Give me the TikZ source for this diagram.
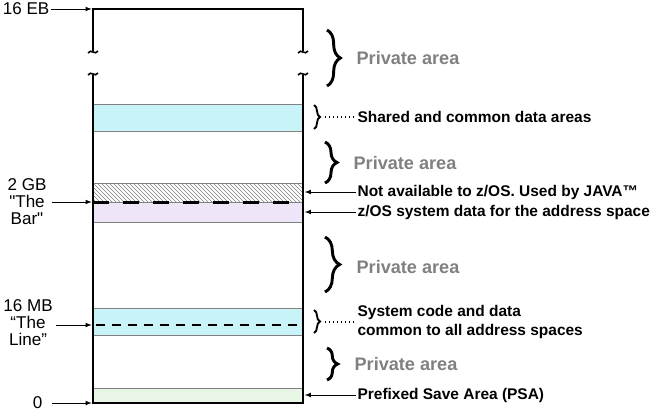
\documentclass[tikz,border=0pt]{standalone}
\usepackage{fontspec}
\setmainfont{Liberation Sans}
\usetikzlibrary{positioning, arrows, calc, fit, patterns, decorations.pathreplacing}
\definecolor{sharedcol}{HTML}{C8F4F9}
\definecolor{sysdatacol}{HTML}{EEE6F8}
\definecolor{psacol}{HTML}{E8F6E5}
\definecolor{privcol}{HTML}{808080}
\tikzset{
	addr/.style={font=\fontsize{12.8}{12.8}\selectfont, align=center, inner sep=1pt}, % labels left of the box
	note/.style={font=\bfseries\fontsize{11.6}{14.2}\selectfont, anchor=west, align=left, inner sep=1pt}, % notes right of the box
	priv/.style={font=\bfseries\fontsize{13.6}{16}\selectfont, text=privcol, anchor=west, inner sep=1pt}, % private area labels
	band/.style={draw=gray, line width=0.6pt, inner sep=0pt}, % horizontal areas in the box
	boxline/.style={line width=1.6pt}, % outline of the address space
	ptr/.style={-latex, line width=0.6pt}, % arrows to the boundaries
	leader/.style={dotted, line width=1pt}, % dotted lines after small braces
	bigbrace/.style={decorate, decoration={brace, amplitude=#1}, line width=2.2pt}, % large braces
	smallbrace/.style={decorate, decoration={brace, amplitude=4.5pt}, line width=1.4pt}, % small braces
}

\begin{document}
\begin{tikzpicture}[x=0.75pt, y=-0.75pt]
	\useasboundingbox (0,0) rectangle (656,418);

	% areas inside the box
	\node[band, fill=sharedcol, fit={(93,104) (303,131)}] (shared) {};
	\node[band, pattern=north west lines, pattern color=gray, fit={(93,183) (303,202)}] (java) {};
	\node[band, fill=sysdatacol, fit={(93,202) (303,222)}] (sysdata) {};
	\node[band, fill=sharedcol, fit={(93,308) (303,335)}] (common) {};
	\node[band, fill=psacol, fit={(93,388) (303,403)}] (psa) {};
	\coordinate (linemb) at (93,325);
	\draw[line width=2.4pt, dash pattern=on 12pt off 10.5pt] (java.south west) -- (java.south east);
	\draw[line width=1.4pt, dash pattern=on 7pt off 5pt] ([xshift=2pt]linemb) -- (linemb -| common.east);

	% box with a break near the top
	\coordinate (tl) at (93,9);
	\coordinate (tr) at (303,9);
	\coordinate (bl) at (93,403);
	\coordinate (br) at (303,403);
	\draw[boxline] (93,51) -- (tl) -- (tr) -- (303,51);
	\draw[boxline] (93,75) -- (bl) -- (br) -- (303,75);
	\foreach \x in {93,303} {
		\draw[line width=1.2pt] (\x-5,53) .. controls (\x-2,48) and (\x+2,56) .. (\x+5,51);
		\draw[line width=1.2pt] (\x-5,75) .. controls (\x-2,70) and (\x+2,78) .. (\x+5,73);
	}

	% labels on the left
	\node[addr, anchor=east] (eb) at (51,9) {16 EB};
	\node[addr] (bar) at (27,202) {2 GB\\\textquotedbl The\\Bar\textquotedbl};
	\node[addr] (line) at (28,323) {16 MB\\“The\\Line”};
	\node[addr, anchor=east] (zero) at (44,403) {0};
	\draw[ptr] (eb.east) -- ([xshift=-1pt]tl);
	\draw[ptr] ([xshift=3pt]bar.east) -- ([xshift=-1pt]bar.east -| tl);
	\draw[ptr] ([xshift=1pt]line.east |- linemb) -- ([xshift=-1pt]linemb);
	\draw[ptr] ([xshift=6pt]zero.east) -- ([xshift=-1pt]bl);

	% braces and notes on the right
	\draw[bigbrace=10pt] (327,30) -- (327,86);
	\node[priv] (priv1) at (355,58) {Private area};

	\draw[smallbrace] (314,105) -- (314,129);
	\node[note] (sharednote) at (356,117) {Shared and common data areas};
	\draw[leader] (325,117) -- (sharednote.west);

	\draw[bigbrace=9pt] (325,142) -- (325,183);
	\node[priv] (priv2) at (352,163) {Private area};

	\node[note] (javanote) at (356,192) {Not available to z/OS. Used by JAVA™};
	\node[note] (sysnote) at (356,212) {z/OS system data for the address space};
	\draw[ptr] (javanote.west) -- ([xshift=1pt]javanote.west -| java.east);
	\draw[ptr] (sysnote.west) -- ([xshift=1pt]sysnote.west -| sysdata.east);

	\draw[bigbrace=11pt] (325,237) -- (325,292);
	\node[priv] (priv3) at (355,267) {Private area};

	\draw[smallbrace] (314,310) -- (314,333);
	\node[note] (commonnote) at (356,322) {System code and data\\common to all address spaces};
	\draw[leader] (325,322) -- (commonnote.west);

	\draw[bigbrace=8pt] (327,348) -- (327,380);
	\node[priv] (priv4) at (353,364) {Private area};

	\node[note] (psanote) at (356,395) {Prefixed Save Area (PSA)};
	\draw[ptr] (psanote.west) -- ([xshift=1pt]psanote.west -| psa.east);
\end{tikzpicture}
\end{document}
